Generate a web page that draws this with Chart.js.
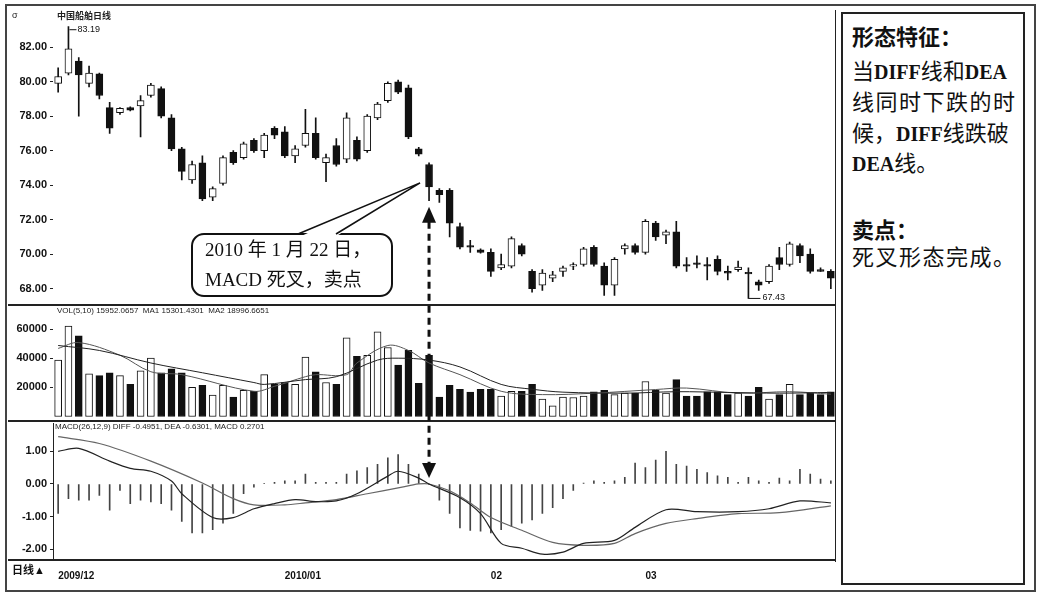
<!DOCTYPE html>
<html lang="zh-CN">
<head>
<meta charset="UTF-8">
<title>MACD 死叉 卖点</title>
<script src="https://cdn.jsdelivr.net/npm/chart.js@4"></script>
<style>
body { margin:0; width:1042px; height:599px; background:#fff; position:relative; overflow:hidden;
       font-family:"Liberation Sans","Noto Sans CJK SC",sans-serif; color:#111; }
canvas { position:absolute; }
.abs { position:absolute; white-space:nowrap; }
.frame { position:absolute; box-sizing:border-box; }
.rule { position:absolute; background:#222; }
.small { font-size:9px; color:#222; }
.panel { font-family:"Liberation Serif","Noto Sans CJK SC",serif; font-size:22px; line-height:26px; }
.panel b { font-family:"Noto Sans CJK SC",sans-serif; }
.panel .lat { font-weight:bold; font-size:20px; }
.note { font-family:"Liberation Serif","Noto Sans CJK SC",serif; font-size:19px; line-height:24px; }
</style>
</head>
<body>

<div class="frame" style="left:5px;top:4px;width:1031px;height:588px;border:2px solid #444;"></div>
<div class="rule" style="left:8px;top:304px;width:828px;height:2px;"></div>
<div class="rule" style="left:8px;top:420px;width:828px;height:2px;"></div>
<div class="rule" style="left:8px;top:559px;width:828px;height:2px;"></div>
<div class="rule" style="left:835px;top:10px;width:1px;height:552px;"></div>
<div class="frame" style="left:841px;top:12px;width:184px;height:573px;border:2px solid #222;"></div>

<canvas id="priceChart" width="828" height="308" style="left:8px;top:4px;"></canvas>
<canvas id="volChart" width="828" height="131" style="left:8px;top:298px;"></canvas>
<canvas id="macdChart" width="828" height="168" style="left:8px;top:414px;"></canvas>

<div class="abs small" style="left:12px;top:10px;">σ</div>
<div class="abs small" style="left:57px;top:9px;font-weight:bold;">中国船舶日线</div>
<div class="abs small" style="left:57px;top:306px;font-size:8px;">VOL(5,10) 15952.0657&nbsp; MA1 15301.4301&nbsp; MA2 18996.6651</div>
<div class="abs small" style="left:55px;top:422px;font-size:8px;">MACD(26,12,9) DIFF -0.4951, DEA -0.6301, MACD 0.2701</div>
<div class="abs" style="left:12px;top:561px;font-size:11px;font-weight:bold;">日线▲</div>

<div class="abs panel" style="left:852px;top:22px;"><b>形态特征：</b></div>
<div class="abs panel" style="left:852px;top:59px;">当<span class="lat">DIFF</span>线和<span class="lat">DEA</span></div>
<div class="abs panel" style="left:852px;top:90px;letter-spacing:1.5px;">线同时下跌的时</div>
<div class="abs panel" style="left:852px;top:121px;">候，<span class="lat">DIFF</span>线跌破</div>
<div class="abs panel" style="left:852px;top:151px;"><span class="lat">DEA</span>线。</div>
<div class="abs panel" style="left:852px;top:215px;"><b>卖点：</b></div>
<div class="abs panel" style="left:852px;top:245px;letter-spacing:1.5px;">死叉形态完成。</div>

<svg id="overlay" width="1042" height="599" style="position:absolute;left:0;top:0;pointer-events:none;"></svg>
<div class="abs note" style="left:205px;top:238px;">2010 年 1 月 22 日，</div>
<div class="abs note" style="left:205px;top:268px;">MACD 死叉，卖点</div>

<script>
// daily candles, 2009/12 - 2010/03
const opens = [79.9, 80.5, 81.2, 79.9, 80.45, 78.5, 78.2, 78.5, 78.6, 79.2,
  79.6, 77.9, 76.1, 74.3, 75.3, 73.3, 74.1, 75.9, 75.6, 76.6,
  76.0, 77.3, 77.1, 75.7, 76.3, 77.0, 75.3, 76.3, 75.5, 76.6,
  76.0, 77.9, 78.9, 80.0, 79.65, 76.1, 75.2, 73.7, 73.7, 71.6,
  70.5, 70.25, 70.1, 69.2, 69.3, 70.5, 69.0, 68.2, 68.6, 69.0,
  69.3, 69.4, 70.4, 69.3, 68.2, 70.3, 70.5, 70.1, 71.8, 71.1,
  71.3, 69.4, 69.5, 69.4, 69.7, 69.0, 69.1, 68.95, 68.4, 68.4,
  69.8, 69.4, 70.5, 70.0, 69.1, 69.0];
const closes = [80.3, 81.9, 80.4, 80.5, 79.2, 77.3, 78.45, 78.35, 78.9, 79.8,
  78.0, 76.1, 74.8, 75.2, 73.2, 73.8, 75.6, 75.3, 76.4, 76.0,
  76.9, 76.9, 75.7, 76.1, 77.0, 75.6, 75.6, 75.2, 77.9, 75.5,
  78.0, 78.7, 79.9, 79.4, 76.8, 75.8, 73.9, 73.45, 71.8, 70.4,
  70.4, 70.1, 69.0, 69.4, 70.9, 70.0, 68.0, 68.9, 68.8, 69.2,
  69.4, 70.3, 69.4, 68.2, 69.7, 70.5, 70.1, 71.9, 71.0, 71.3,
  69.3, 69.3, 69.4, 69.3, 69.0, 68.9, 69.25, 68.85, 68.2, 69.3,
  69.4, 70.6, 69.9, 69.0, 69.0, 68.6];
const highs = [80.8, 83.19, 81.4, 80.9, 80.5, 78.8, 78.5, 78.55, 79.2, 79.9,
  79.7, 78.1, 76.2, 75.4, 75.7, 73.9, 75.7, 76.0, 76.5, 76.7,
  77.0, 77.4, 77.4, 76.3, 78.4, 77.9, 75.8, 76.7, 78.2, 76.8,
  78.1, 78.8, 80.0, 80.1, 79.8, 76.2, 75.3, 73.8, 73.8, 71.8,
  70.8, 70.3, 70.3, 70.0, 71.0, 70.6, 69.1, 69.1, 69.0, 69.3,
  69.5, 70.4, 70.5, 69.5, 69.8, 70.6, 70.6, 72.0, 71.9, 71.4,
  71.9, 69.8, 69.9, 69.8, 69.9, 69.3, 69.6, 69.2, 68.5, 69.4,
  70.4, 70.7, 70.6, 70.3, 69.2, 69.1];
const lows = [79.4, 80.4, 78.0, 79.7, 79.0, 77.0, 78.1, 78.3, 76.8, 79.1,
  77.9, 76.0, 74.3, 74.1, 73.1, 73.1, 74.0, 75.2, 75.5, 75.9,
  75.6, 76.7, 75.6, 75.3, 76.2, 75.5, 74.2, 75.1, 75.3, 75.4,
  75.9, 77.8, 78.8, 79.3, 76.7, 75.7, 73.1, 73.0, 71.0, 70.3,
  70.1, 70.05, 68.7, 69.1, 69.2, 69.9, 67.8, 67.9, 68.4, 68.7,
  69.1, 69.3, 69.3, 67.6, 67.6, 70.0, 70.0, 70.0, 70.8, 70.6,
  69.2, 69.0, 69.2, 68.5, 68.8, 68.5, 69.0, 67.43, 67.9, 68.3,
  69.1, 69.3, 69.5, 68.9, 69.0, 68.0];
const volumes = [38700, 62000, 55300, 29300, 28000, 30000, 28000, 22000, 31300, 40000,
  30000, 32700, 30000, 20000, 21300, 14700, 21300, 13300, 18000, 17300,
  28700, 22000, 23300, 22000, 40700, 30700, 23300, 22000, 54000, 41300,
  42000, 58000, 47300, 35300, 45300, 22700, 42000, 13300, 21300, 18700,
  16700, 18700, 18700, 14000, 17300, 17300, 22000, 12000, 7300, 13300,
  13000, 14000, 17000, 18000, 15000, 16000, 16000, 24000, 18000, 16000,
  25300, 14000, 14000, 17000, 17000, 15000, 16000, 14000, 20000, 12000,
  15000, 22000, 15000, 16000, 15000, 17000];
// moving-average lines as [day index, value]
const volMa1Pts = [[0, 48700], [4, 45300], [9, 36700], [14, 30000], [19, 23300], [20, 22000],
  [24, 25300], [27, 27300], [31, 38700], [33, 40000], [36, 38700], [39, 34000], [43, 22000],
  [46, 18700], [49, 16700], [55, 16000], [60, 17000], [65, 16500], [70, 16000], [75, 16500]];
const volMa2Pts = [[0, 46700], [2, 50700], [6, 42000], [9, 30700], [12, 28700], [19, 17300],
  [21, 20700], [24, 27300], [25, 28700], [28, 28700], [29, 36700], [32, 48700], [34, 45300],
  [36, 36700], [39, 28700], [43, 17300], [47, 15000], [52, 16000], [58, 18500], [61, 19500],
  [66, 16000], [71, 17000], [75, 15300]];
const diffPts = [[0, 1.0], [2, 1.09], [5, 0.7], [7, 0.48], [9, 0.39], [11, 0.09], [12, -0.3],
  [15, -1.03], [17, -1.03], [19, -0.76], [21, -0.6], [23, -0.48], [25, -0.54], [27, -0.52],
  [29, -0.3], [32, 0.24], [33, 0.39], [35, 0.18], [36, 0.0], [39, -0.42], [41, -0.91],
  [43, -1.82], [45, -1.97], [47, -2.15], [49, -2.09], [51, -1.82], [54, -1.73], [56, -1.33],
  [59, -0.79], [62, -0.85], [66, -0.85], [69, -0.76], [72, -0.52], [75, -0.58]];
const deaPts = [[0, 1.45], [4, 1.24], [9, 0.7], [14, 0.03], [17, -0.45], [19, -0.64], [22, -0.64],
  [24, -0.58], [27, -0.48], [30, -0.3], [33, -0.12], [35, 0.0], [36, 0.0], [38, -0.21],
  [40, -0.58], [42, -1.03], [45, -1.42], [48, -1.79], [51, -1.88], [54, -1.82], [56, -1.52],
  [59, -1.21], [62, -1.06], [66, -0.91], [70, -0.88], [75, -0.67]];
const macdHist = [-0.9, -0.45, -0.5, -0.5, -0.35, -0.8, -0.2, -0.6, -0.5, -0.55,
  -0.6, -0.8, -1.15, -1.5, -1.5, -1.4, -1.2, -0.9, -0.3, -0.1,
  0.02, 0.05, 0.1, 0.1, 0.3, 0.05, 0.05, 0.05, 0.3, 0.4,
  0.5, 0.6, 0.8, 0.9, 0.6, 0.3, -0.02, -0.5, -0.9, -1.35,
  -1.42, -1.45, -1.5, -1.4, -1.3, -1.2, -1.1, -0.9, -0.73, -0.45,
  -0.2, 0.03, 0.1, 0.05, 0.1, 0.2, 0.64, 0.5, 0.73, 1.0,
  0.6, 0.55, 0.45, 0.35, 0.25, 0.2, 0.05, 0.2, 0.1, 0.05,
  0.18, 0.1, 0.45, 0.3, 0.15, 0.1];

const priceTicks = [68, 70, 72, 74, 76, 78, 80, 82];
const volTicks = [20000, 40000, 60000];
const macdTicks = [1, 0, -1, -2];
const monthTicks = [[0, '2009/12'], [22, '2010/01'], [42, '02'], [57, '03']];
const signalDay = 36; // 2010-01-22

const N = opens.length;
const days = opens.map((_, i) => 'D' + (i + 1));
const up = opens.map((o, i) => closes[i] >= o);
const monthLabel = {};
monthTicks.forEach(([i, t]) => { monthLabel[i] = t; });

function fill(pts) {
  const a = new Array(N).fill(null);
  pts.forEach(([i, v]) => { a[i] = v; });
  return a;
}

Chart.defaults.font.family = '"Liberation Sans", sans-serif';
Chart.defaults.color = '#111';

const INK = '#111';

function yAxis(min, max, ticks, fmt, border) {
  return {
    min: min, max: max,
    afterFit: s => { s.width = 45; },
    afterBuildTicks: s => { s.ticks = ticks.map(v => ({ value: v })); },
    ticks: { callback: fmt, padding: 3, color: INK, font: { size: 11, weight: 'bold' } },
    grid: { drawOnChartArea: false, tickLength: 3, color: '#222' },
    border: { display: border, color: '#222', width: 1 }
  };
}

function baseOptions(padTop, padBottom) {
  return {
    responsive: false,
    animation: false,
    events: [],
    layout: { padding: { top: padTop, bottom: padBottom, left: 0, right: 0 } },
    plugins: { legend: { display: false }, tooltip: { enabled: false } }
  };
}

// high / low markers
const extremesPlugin = {
  id: 'extremes',
  afterDatasetsDraw(chart) {
    const ctx = chart.ctx, xs = chart.scales.x, ys = chart.scales.y;
    let hi = 0, lo = 0;
    highs.forEach((h, i) => { if (h > highs[hi]) hi = i; });
    lows.forEach((l, i) => { if (l < lows[lo]) lo = i; });
    ctx.save();
    ctx.strokeStyle = INK;
    ctx.fillStyle = INK;
    ctx.lineWidth = 1;
    ctx.font = '9px "Liberation Sans"';
    ctx.textBaseline = 'middle';
    let x = xs.getPixelForValue(hi), y = ys.getPixelForValue(highs[hi]);
    ctx.beginPath(); ctx.moveTo(x + 1, y + 3); ctx.lineTo(x + 8, y + 3); ctx.stroke();
    ctx.fillText(highs[hi].toFixed(2), x + 9, y + 3);
    x = xs.getPixelForValue(lo); y = ys.getPixelForValue(lows[lo]);
    ctx.beginPath(); ctx.moveTo(x, y); ctx.lineTo(x + 12, y); ctx.stroke();
    ctx.fillText(lows[lo].toFixed(2), x + 14, y - 1);
    ctx.restore();
  }
};

const priceOpts = baseOptions(8, 8);
priceOpts.scales = {
  x: { display: false, offset: true },
  y: yAxis(67.2, 83.95, priceTicks, v => v.toFixed(2), false)
};
const priceChart = new Chart(document.getElementById('priceChart'), {
  type: 'bar',
  data: {
    labels: days,
    datasets: [{
      data: opens.map((o, i) => [Math.min(o, closes[i]), Math.max(o, closes[i])]),
      backgroundColor: up.map(u => u ? '#fff' : INK),
      borderColor: INK, borderWidth: 1, borderSkipped: false,
      barThickness: 7, grouped: false, order: 0
    }, {
      data: lows.map((l, i) => [l, highs[i]]),
      backgroundColor: INK, borderWidth: 0,
      barThickness: 1, grouped: false, order: 1
    }]
  },
  options: priceOpts,
  plugins: [extremesPlugin]
});

const volOpts = baseOptions(8, 8);
volOpts.scales = {
  x: { display: false, offset: true },
  y: yAxis(-2000, 74700, volTicks, v => String(v), false)
};
new Chart(document.getElementById('volChart'), {
  type: 'bar',
  data: {
    labels: days,
    datasets: [{
      type: 'line', data: fill(volMa1Pts), borderColor: '#222', borderWidth: 1,
      pointRadius: 0, spanGaps: true, tension: 0.35, order: 0
    }, {
      type: 'line', data: fill(volMa2Pts), borderColor: '#555', borderWidth: 1,
      pointRadius: 0, spanGaps: true, tension: 0.35, order: 0
    }, {
      data: volumes,
      backgroundColor: up.map(u => u ? '#fff' : INK),
      borderColor: INK, borderWidth: 1, borderSkipped: false,
      barThickness: 7, grouped: false, order: 1
    }]
  },
  options: volOpts
});

const macdOpts = baseOptions(8, 0);
macdOpts.scales = {
  x: {
    offset: true,
    afterFit: s => { s.height = 22; },
    grid: { display: false },
    border: { display: true, color: '#222', width: 2 },
    ticks: {
      autoSkip: false, maxRotation: 0, align: 'start', padding: 2, color: INK,
      font: { size: 10, weight: 'bold' },
      callback: (v, i) => monthLabel[i] || ''
    }
  },
  y: yAxis(-2.33, 1.85, macdTicks, v => v.toFixed(2), true)
};
const macdChart = new Chart(document.getElementById('macdChart'), {
  type: 'bar',
  data: {
    labels: days,
    datasets: [{
      type: 'line', data: fill(diffPts), borderColor: '#222', borderWidth: 1.2,
      pointRadius: 0, spanGaps: true, tension: 0.3, order: 0
    }, {
      type: 'line', data: fill(deaPts), borderColor: '#666', borderWidth: 1.2,
      pointRadius: 0, spanGaps: true, tension: 0.3, order: 0
    }, {
      data: macdHist, backgroundColor: '#444', borderWidth: 0,
      barThickness: 1, grouped: false, order: 1
    }]
  },
  options: macdOpts
});

// callout and dashed arrow, placed from the chart scales
(function drawOverlay() {
  const svg = document.getElementById('overlay');
  const NS = 'http://www.w3.org/2000/svg';
  function el(name, attrs) {
    const e = document.createElementNS(NS, name);
    Object.keys(attrs).forEach(k => e.setAttribute(k, attrs[k]));
    svg.appendChild(e);
    return e;
  }
  const x = priceChart.scales.x.getPixelForValue(signalDay) + 8;
  const upTip = priceChart.scales.y.getPixelForValue(lows[signalDay]) + 4 + 6;
  const crossY = macdChart.scales.y.getPixelForValue(0) + 414;
  const downTip = crossY - 6;

  // callout box
  const tipX = x - 9;
  const tipY = priceChart.scales.y.getPixelForValue(closes[signalDay]) + 4 - 4;
  el('rect', { x: 192, y: 234, width: 200, height: 62, rx: 12, ry: 12,
               fill: '#fff', stroke: '#111', 'stroke-width': 2 });
  el('polygon', { points: `299,237 ${tipX},${tipY} 335,237`, fill: '#fff', stroke: 'none' });
  el('polyline', { points: `298,234 ${tipX},${tipY} 336,234`, fill: 'none', stroke: '#111', 'stroke-width': 1.6 });

  // dashed arrow
  el('line', { x1: x, y1: upTip + 15, x2: x, y2: downTip - 14, stroke: '#111',
               'stroke-width': 3, 'stroke-dasharray': '7 5' });
  el('polygon', { points: `${x},${upTip} ${x - 7},${upTip + 16} ${x + 7},${upTip + 16}`, fill: '#111' });
  el('polygon', { points: `${x},${downTip} ${x - 7},${downTip - 15} ${x + 7},${downTip - 15}`, fill: '#111' });
})();
</script>
</body>
</html>
